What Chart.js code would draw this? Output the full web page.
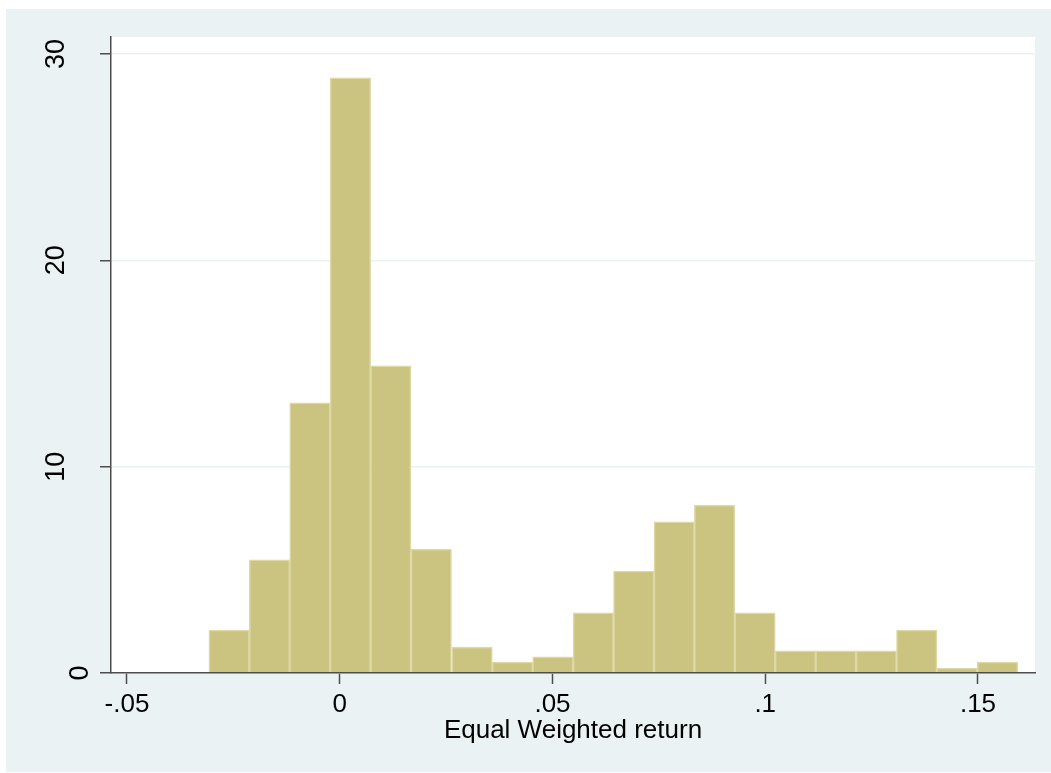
<!DOCTYPE html>
<html>
<head>
<meta charset="utf-8">
<script src="https://cdn.jsdelivr.net/npm/chart.js@4.4.0/dist/chart.umd.min.js"></script>
<style>
  html, body { margin: 0; padding: 0; background: #fff; }
  #wrap { width: 1051px; height: 773px; }
</style>
</head>
<body>
<div id="wrap"><canvas id="hist" width="1051" height="773"></canvas></div>
<script>
// bin centres of the histogram (Equal Weighted return)
const binCenters = [-0.0260, -0.0165, -0.0070, 0.0025, 0.0120, 0.0215, 0.0311, 0.0406,
  0.0501, 0.0596, 0.0691, 0.0786, 0.0881, 0.0976, 0.1071, 0.1166, 0.1261, 0.1356, 0.1451, 0.1546];
// density
const density = [2.08, 5.48, 13.09, 28.84, 14.88, 6.01, 1.26, 0.53,
  0.78, 2.91, 4.94, 7.32, 8.14, 2.91, 1.07, 1.07, 1.07, 2.08, 0.24, 0.53];

const xTickValues = [-0.05, 0, 0.05, 0.1, 0.15];
const xTickLabels = ['-.05', '0', '.05', '.1', '.15'];
const yTickValues = [0, 10, 20, 30];
const yTickLabels = ['0', '10', '20', '30'];
const xTitle = 'Equal Weighted return';

const BG = '#eaf2f3';
const AXIS = '#4d4d4d';
const FONT = '"Liberation Sans", Arial, sans-serif';

// Stata-like backdrop: light outer region, white plot region
const backdrop = {
  id: 'backdrop',
  beforeDraw(chart) {
    const { ctx, chartArea: a } = chart;
    ctx.save();
    ctx.fillStyle = '#fff';
    ctx.fillRect(0, 0, chart.width, chart.height);
    ctx.fillStyle = BG;
    ctx.fillRect(6, 9, chart.width - 6, chart.height - 10);
    ctx.fillStyle = '#fff';
    ctx.fillRect(a.left, a.top, a.right - a.left, a.bottom - a.top);
    ctx.restore();
  }
};

// vertical (rotated) y tick labels
const yLabels = {
  id: 'yLabels',
  afterDraw(chart) {
    const { ctx } = chart;
    const y = chart.scales.y;
    ctx.save();
    ctx.font = '27px ' + FONT;
    ctx.fillStyle = '#000';
    ctx.textAlign = 'center';
    ctx.textBaseline = 'middle';
    yTickValues.forEach((v, i) => {
      const txt = yTickLabels[i];
      const w = ctx.measureText(txt).width;
      const py = y.getPixelForValue(v);
      const cx = y.right - 6 - 1.6 * w;
      ctx.save();
      ctx.translate(cx, py);
      ctx.rotate(-Math.PI / 2);
      ctx.fillText(txt, 0, 0);
      ctx.restore();
    });
    ctx.restore();
  }
};

new Chart(document.getElementById('hist'), {
  type: 'bar',
  data: {
    datasets: [{
      data: binCenters.map((x, i) => ({ x: x, y: density[i] })),
      backgroundColor: '#cbc380',
      borderColor: '#ddd8a4',
      borderWidth: 1.5,
      barPercentage: 1,
      categoryPercentage: 1
    }]
  },
  options: {
    responsive: false,
    animation: false,
    events: [],
    layout: { padding: { left: 0, top: 37, right: 16, bottom: 0 } },
    plugins: { legend: { display: false }, tooltip: { enabled: false } },
    scales: {
      x: {
        type: 'linear',
        offset: false,
        min: -0.05376,
        max: 0.1634,
        afterBuildTicks: s => { s.ticks = xTickValues.map(v => ({ value: v })); },
        afterFit: s => { s.height = 100; },
        ticks: {
          callback: (v) => xTickLabels[xTickValues.indexOf(v)],
          font: { family: FONT, size: 26 },
          color: '#000',
          padding: 5,
          maxRotation: 0,
          minRotation: 0
        },
        grid: {
          offset: false,
          drawOnChartArea: false,
          drawTicks: true,
          tickLength: 11,
          tickColor: AXIS,
          tickWidth: 1.5
        },
        border: { color: AXIS, width: 1.5, z: 1 },
        title: {
          display: true,
          text: xTitle,
          color: '#000',
          font: { family: FONT, size: 26 },
          padding: { top: 0, bottom: 27 }
        }
      },
      y: {
        type: 'linear',
        min: 0,
        max: 30.82,
        afterBuildTicks: s => { s.ticks = yTickValues.map(v => ({ value: v })); },
        afterFit: s => { s.width = 111; },
        ticks: { display: false },
        grid: {
          color: BG,
          lineWidth: 1.5,
          drawTicks: true,
          tickLength: 11,
          tickColor: AXIS,
          tickWidth: 1.5
        },
        border: { color: AXIS, width: 1.5, z: 1 }
      }
    }
  },
  plugins: [backdrop, yLabels]
});
</script>
</body>
</html>
